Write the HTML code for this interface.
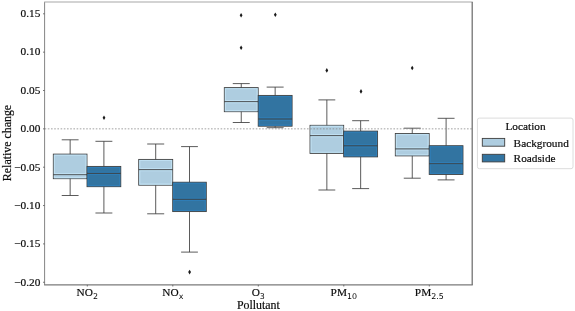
<!DOCTYPE html>
<html><head><meta charset="utf-8"><title>Relative change by pollutant</title>
<style>
html,body{margin:0;padding:0;background:#fff;}
svg{display:block;}
.txt{filter:grayscale(1);}
text{font-family:"Liberation Serif","Times New Roman",serif;fill:#0a0a0a;stroke:#0a0a0a;stroke-width:0.18px;}
.tk{font-size:11.3px;}
.sub{font-family:"DejaVu Sans","Liberation Sans",sans-serif;font-size:7.9px;stroke:none;fill:#000;}
.ax{font-size:11.9px;}
.lg{font-size:11.3px;}
</style></head><body>
<svg width="575" height="311" viewBox="0 0 575 311">
<rect x="0" y="0" width="575" height="311" fill="#ffffff"/>
<g stroke="#3d3d3d" stroke-width="0.85" fill="none">
<rect x="53.30" y="154.10" width="33.70" height="24.60" fill="#aecde0"/>
<path d="M54.40 155.20H85.90V173.60H54.40ZM54.40 175.80H85.90V177.60H54.40Z" stroke="#bfdff1" stroke-width="1.1"/>
<path d="M70.15 154.10V139.80M70.15 178.70V195.50M61.73 139.80H78.58M61.73 195.50H78.58M53.30 174.70H87.00"/>
</g>
<g stroke="#3d3d3d" stroke-width="0.85" fill="none">
<rect x="87.00" y="166.40" width="33.80" height="20.30" fill="#3274a1"/>
<path d="M88.10 167.50H119.70V172.30H88.10ZM88.10 174.50H119.70V185.60H88.10Z" stroke="#2f7db6" stroke-width="1.1"/>
<path d="M103.90 166.40V141.30M103.90 186.70V213.00M95.45 141.30H112.35M95.45 213.00H112.35M87.00 173.40H120.80"/>
</g>
<g stroke="#3d3d3d" stroke-width="0.85" fill="none">
<rect x="138.70" y="159.40" width="34.00" height="25.80" fill="#aecde0"/>
<path d="M139.80 160.50H171.60V168.50H139.80ZM139.80 170.70H171.60V184.10H139.80Z" stroke="#bfdff1" stroke-width="1.1"/>
<path d="M155.70 159.40V144.00M155.70 185.20V213.80M147.20 144.00H164.20M147.20 213.80H164.20M138.70 169.60H172.70"/>
</g>
<g stroke="#3d3d3d" stroke-width="0.85" fill="none">
<rect x="172.70" y="182.20" width="33.60" height="29.40" fill="#3274a1"/>
<path d="M173.80 183.30H205.20V198.20H173.80ZM173.80 200.40H205.20V210.50H173.80Z" stroke="#2f7db6" stroke-width="1.1"/>
<path d="M189.50 182.20V146.60M189.50 211.60V252.10M181.10 146.60H197.90M181.10 252.10H197.90M172.70 199.30H206.30"/>
</g>
<g stroke="#3d3d3d" stroke-width="0.85" fill="none">
<rect x="224.30" y="87.60" width="33.90" height="24.10" fill="#aecde0"/>
<path d="M225.40 88.70H257.10V100.50H225.40ZM225.40 102.70H257.10V110.60H225.40Z" stroke="#bfdff1" stroke-width="1.1"/>
<path d="M241.25 87.60V83.60M241.25 111.70V122.50M232.78 83.60H249.72M232.78 122.50H249.72M224.30 101.60H258.20"/>
</g>
<g stroke="#3d3d3d" stroke-width="0.85" fill="none">
<rect x="258.20" y="95.40" width="33.90" height="30.80" fill="#3274a1"/>
<path d="M259.30 96.50H291.00V117.90H259.30ZM259.30 120.10H291.00V125.10H259.30Z" stroke="#2f7db6" stroke-width="1.1"/>
<path d="M275.15 95.40V87.10M275.15 126.20V127.70M266.67 87.10H283.62M266.67 127.70H283.62M258.20 119.00H292.10"/>
</g>
<g stroke="#3d3d3d" stroke-width="0.85" fill="none">
<rect x="310.00" y="125.30" width="33.70" height="28.10" fill="#aecde0"/>
<path d="M311.10 126.40H342.60V134.50H311.10ZM311.10 136.70H342.60V152.30H311.10Z" stroke="#bfdff1" stroke-width="1.1"/>
<path d="M326.85 125.30V99.90M326.85 153.40V190.00M318.43 99.90H335.28M318.43 190.00H335.28M310.00 135.60H343.70"/>
</g>
<g stroke="#3d3d3d" stroke-width="0.85" fill="none">
<rect x="343.70" y="131.10" width="33.90" height="25.80" fill="#3274a1"/>
<path d="M344.80 132.20H376.50V144.70H344.80ZM344.80 146.90H376.50V155.80H344.80Z" stroke="#2f7db6" stroke-width="1.1"/>
<path d="M360.65 131.10V120.70M360.65 156.90V188.60M352.17 120.70H369.12M352.17 188.60H369.12M343.70 145.80H377.60"/>
</g>
<g stroke="#3d3d3d" stroke-width="0.85" fill="none">
<rect x="395.30" y="133.50" width="33.90" height="22.40" fill="#aecde0"/>
<path d="M396.40 134.60H428.10V147.80H396.40ZM396.40 150.00H428.10V154.80H396.40Z" stroke="#bfdff1" stroke-width="1.1"/>
<path d="M412.25 133.50V128.20M412.25 155.90V178.20M403.77 128.20H420.73M403.77 178.20H420.73M395.30 148.90H429.20"/>
</g>
<g stroke="#3d3d3d" stroke-width="0.85" fill="none">
<rect x="429.20" y="145.70" width="33.80" height="28.80" fill="#3274a1"/>
<path d="M430.30 146.80H461.90V162.60H430.30ZM430.30 164.80H461.90V173.40H430.30Z" stroke="#2f7db6" stroke-width="1.1"/>
<path d="M446.10 145.70V118.30M446.10 174.50V179.90M437.65 118.30H454.55M437.65 179.90H454.55M429.20 163.70H463.00"/>
</g>
<path d="M104.0 115.5L105.4 117.8L104.0 120.1L102.6 117.8Z" fill="#1a1a1a"/>
<path d="M189.6 269.8L191.0 272.1L189.6 274.4L188.2 272.1Z" fill="#1a1a1a"/>
<path d="M241.1 13.0L242.5 15.3L241.1 17.6L239.7 15.3Z" fill="#1a1a1a"/>
<path d="M241.1 45.4L242.5 47.7L241.1 50.0L239.7 47.7Z" fill="#1a1a1a"/>
<path d="M275.3 12.5L276.7 14.8L275.3 17.1L273.9 14.8Z" fill="#1a1a1a"/>
<path d="M326.8 68.1L328.2 70.4L326.8 72.7L325.4 70.4Z" fill="#1a1a1a"/>
<path d="M361.0 89.1L362.4 91.4L361.0 93.7L359.6 91.4Z" fill="#1a1a1a"/>
<path d="M412.2 65.7L413.6 68.0L412.2 70.3L410.8 68.0Z" fill="#1a1a1a"/>
<line x1="44.6" y1="128.85" x2="472.2" y2="128.85" stroke="#8a8a8a" stroke-width="0.8" stroke-dasharray="1.6 1.6"/>
<path d="M44.6 284.9V2.0" stroke="#858585" stroke-width="1.0" fill="none"/>
<path d="M44.1 2.0H472.8" stroke="#a8a8a8" stroke-width="1.2" fill="none"/>
<path d="M472.2 2.0V284.9" stroke="#6e6e6e" stroke-width="1.25" fill="none"/>
<path d="M44.1 284.9H472.8" stroke="#7a7a7a" stroke-width="1.3" fill="none"/>
<g class="txt">
<line x1="43.0" y1="13.8" x2="44.6" y2="13.8" stroke="#555" stroke-width="0.8"/>
<text class="tk" x="40.3" y="17.10" text-anchor="end">0.15</text>
<line x1="43.0" y1="52.15" x2="44.6" y2="52.15" stroke="#555" stroke-width="0.8"/>
<text class="tk" x="40.3" y="55.45" text-anchor="end">0.10</text>
<line x1="43.0" y1="90.5" x2="44.6" y2="90.5" stroke="#555" stroke-width="0.8"/>
<text class="tk" x="40.3" y="93.80" text-anchor="end">0.05</text>
<line x1="43.0" y1="128.85" x2="44.6" y2="128.85" stroke="#555" stroke-width="0.8"/>
<text class="tk" x="40.3" y="132.15" text-anchor="end">0.00</text>
<line x1="43.0" y1="167.2" x2="44.6" y2="167.2" stroke="#555" stroke-width="0.8"/>
<text class="tk" x="40.3" y="170.50" text-anchor="end">−0.05</text>
<line x1="43.0" y1="205.55" x2="44.6" y2="205.55" stroke="#555" stroke-width="0.8"/>
<text class="tk" x="40.3" y="208.85" text-anchor="end">−0.10</text>
<line x1="43.0" y1="243.9" x2="44.6" y2="243.9" stroke="#555" stroke-width="0.8"/>
<text class="tk" x="40.3" y="247.20" text-anchor="end">−0.15</text>
<line x1="43.0" y1="282.25" x2="44.6" y2="282.25" stroke="#555" stroke-width="0.8"/>
<text class="tk" x="40.3" y="285.55" text-anchor="end">−0.20</text>
<line x1="87.3" y1="284.9" x2="87.3" y2="286.5" stroke="#555" stroke-width="0.8"/>
<text class="tk" x="87.3" y="295.7" text-anchor="middle">NO<tspan class="sub" dy="3.0">2</tspan></text>
<line x1="172.8" y1="284.9" x2="172.8" y2="286.5" stroke="#555" stroke-width="0.8"/>
<text class="tk" x="172.8" y="295.7" text-anchor="middle">NO<tspan class="sub" dy="3.0">x</tspan></text>
<line x1="258.3" y1="284.9" x2="258.3" y2="286.5" stroke="#555" stroke-width="0.8"/>
<text class="tk" x="258.3" y="295.7" text-anchor="middle">O<tspan class="sub" dy="3.0">3</tspan></text>
<line x1="343.8" y1="284.9" x2="343.8" y2="286.5" stroke="#555" stroke-width="0.8"/>
<text class="tk" x="343.8" y="295.7" text-anchor="middle">PM<tspan class="sub" dy="3.0">10</tspan></text>
<line x1="429.3" y1="284.9" x2="429.3" y2="286.5" stroke="#555" stroke-width="0.8"/>
<text class="tk" x="429.3" y="295.7" text-anchor="middle">PM<tspan class="sub" dy="3.0">2.5</tspan></text>
<text class="ax" x="258.4" y="308.9" text-anchor="middle">Pollutant</text>
<text class="ax" transform="translate(10.7,143) rotate(-90)" text-anchor="middle">Relative change</text>
</g>
<rect x="477.4" y="118.1" width="95.6" height="50.6" rx="2" ry="2" fill="#fff" stroke="#dcdcdc" stroke-width="1"/>
<rect x="482.3" y="138.4" width="22.4" height="7.8" fill="#aecde0" stroke="#3d3d3d" stroke-width="0.9"/>
<rect x="482.3" y="154.3" width="22.4" height="7.6" fill="#3274a1" stroke="#3d3d3d" stroke-width="0.9"/>
<g class="txt"><text class="lg" x="525.5" y="130.1" text-anchor="middle">Location</text>
<text class="lg" x="513.6" y="146.7">Background</text>
<text class="lg" x="513.6" y="162.2">Roadside</text></g>
</svg></body></html>
